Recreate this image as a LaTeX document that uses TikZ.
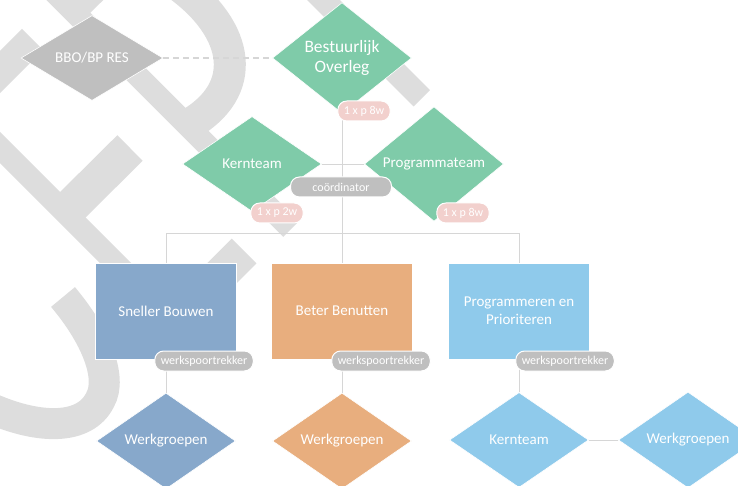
\documentclass[tikz,border=0pt]{standalone}
\usepackage{fontspec}
\setmainfont{Carlito}
\usetikzlibrary{shapes.geometric}

\definecolor{teamgreen}{HTML}{7FCBA9}
\definecolor{bouwblue}{HTML}{87A8CB}
\definecolor{benutorange}{HTML}{E8AE7E}
\definecolor{progblue}{HTML}{8FCAEB}
\definecolor{restgray}{HTML}{BFBFBF}
\definecolor{freqpink}{HTML}{F2D0CD}
\definecolor{markgray}{HTML}{DDDDDD}
\definecolor{linkgray}{HTML}{D6D6D6}

\begin{document}
\begin{tikzpicture}[x=1pt, y=-1pt,
    diam/.style={shape=diamond, fill=#1, draw=white, line width=0.6pt,
      inner sep=0pt, minimum width=\dw pt, minimum height=\dh pt,
      text=white, align=center, font=\fontsize{15}{18}\selectfont},
    box/.style={rectangle, fill=#1, draw=white, line width=0.8pt,
      minimum width=\bw pt, minimum height=\bh pt,
      text=white, align=center, font=\fontsize{15}{17.7}\selectfont},
    pill/.style={rectangle, rounded corners=9pt, fill=#1, draw=white,
      line width=1pt, minimum height=20pt, inner xsep=6pt, inner ysep=0pt,
      text=white, font=\fontsize{12}{14}\selectfont},
    link/.style={draw=linkgray, line width=0.9pt},
    band/.style={draw=markgray, line width=#1}]

  % Diamond size (dw x dh) and box size (bw x bh), in px
  \pgfmathsetmacro{\dw}{139}
  \pgfmathsetmacro{\dh}{95}
  \pgfmathsetmacro{\bw}{141}
  \pgfmathsetmacro{\bh}{96}

  % Page is 738 x 486 px, y runs downwards
  \useasboundingbox (0,0) rectangle (738,486);

  % Grey logo in the background
  \begin{scope}
    \clip (0,0) rectangle (738,486);
    % stem and bowl of the P
    \draw[band=22pt] (20,-42) -- (291,229);
    \draw[band=22pt] (74.75,12.75) -- (120,-32);
    \draw[band=32pt] (178,-15) .. controls (240,30) and (250,90) .. (188,125);
    % band right of the top diamond
    \draw[band=23pt] (300,-23.5) -- (421.75,98.25);
    % band left of BBO/BP RES
    \draw[band=30pt] (-30,102) -- (32.5,39.5);
    % long band with its side branch and the bend under the first box
    \draw[band=22pt] (-30,117.5) -- (180,327.5);
    \draw[band=36pt] (65,212.5) -- (130,148);
    \draw[band=35pt] (168,327) -- (244,251);
    % curve at the bottom left
    \draw[band=31pt] (63,297) .. controls (95,335) and (113,377) .. (100,400)
      .. controls (85,430) and (40,430) .. (-10,408);
  \end{scope}

  % Top level
  \node[diam=restgray, minimum width=142pt, minimum height=85pt] (bbo) at (92,58) {BBO/BP RES};
  \node[diam=teamgreen, minimum height=96pt, font=\fontsize{17.4}{20.7}\selectfont] (bo) at (342,58) {Bestuurlijk\\Overleg};

  % Second level
  \node[diam=teamgreen] (kt) at (252,164) {Kernteam};
  \node[diam=teamgreen] (pt) at (434,164) {Programmateam};

  % The three tracks
  \node[box=bouwblue] (sb) at (166,311) {Sneller Bouwen};
  \node[box=benutorange] (bb) at (342,311) {Beter Benutten};
  \node[box=progblue] (pp) at (519,311) {Programmeren en\\Prioriteren};

  % Groups under each track
  \node[diam=bouwblue] (wg1) at (166,441) {Werkgroepen};
  \node[diam=benutorange] (wg2) at (342,441) {Werkgroepen};
  \node[diam=progblue] (kt2) at (519,440) {Kernteam};
  \node[diam=progblue] (wg3) at (688,440) {Werkgroepen};

  % Connectors
  \draw[draw=linkgray, line width=1.2pt, dash pattern=on 6pt off 4pt] (bbo.east) -- (bo.west);
  \draw[link] (bo.south) -- (bb.north);
  \draw[link] (kt.east) -- (pt.west);
  \coordinate (bus) at (342,233);
  \draw[link] (sb.north) -- (sb.north |- bus) -- (pp.north |- bus) -- (pp.north);
  \foreach \b/\d in {sb/wg1, bb/wg2, pp/kt2}{
    \draw[link] (\b.south) -- (\d.north);
  }
  \draw[link] (kt2.east) -- (wg3.west);

  % Meeting frequencies and roles
  \node[pill=freqpink] (freqbo) at (364,111) {1 x p 8w};
  \node[pill=restgray, minimum width=101pt] (coord) at (341,187) {coördinator};
  \node[pill=freqpink] (freqkt) at (277,213) {1 x p 2w};
  \node[pill=freqpink] (freqpt) at (463,213) {1 x p 8w};
  \foreach \n/\x in {1/204, 2/381, 3/565}{
    \node[pill=restgray] (wst\n) at (\x,361) {werkspoortrekker};
  }

\end{tikzpicture}
\end{document}
